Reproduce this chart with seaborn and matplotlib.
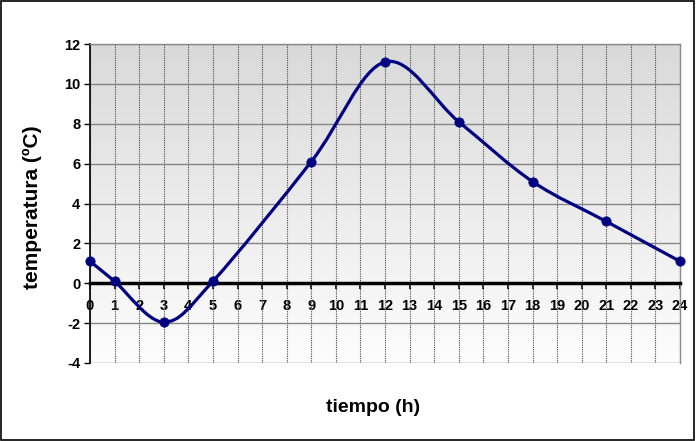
import numpy as np
import pandas as pd
import matplotlib
matplotlib.use("Agg")
import matplotlib.pyplot as plt
from matplotlib.path import Path
from matplotlib.patches import PathPatch
from matplotlib.colors import LinearSegmentedColormap
import seaborn as sns

# data
hours = [0, 1, 3, 5, 9, 12, 15, 18, 21, 24]
temps = [1.1, 0.1, -1.95, 0.1, 6.1, 11.1, 8.1, 5.1, 3.1, 1.1]
x_ticks = list(range(0, 25))
y_ticks = [-4, -2, 0, 2, 4, 6, 8, 10, 12]
x_label = "tiempo (h)"
y_label = "temperatura (ºC)"

sns.set_theme(style="white")
plt.rcParams['font.family'] = ['Liberation Sans', 'DejaVu Sans']
plt.rcParams['text.color'] = 'black'
plt.rcParams['xtick.color'] = 'black'
plt.rcParams['ytick.color'] = 'black'
plt.rcParams['xtick.labelcolor'] = 'black'
plt.rcParams['ytick.labelcolor'] = 'black'

fig = plt.figure(figsize=(6.96, 4.41), dpi=100)
ax = fig.add_axes([90/696, 1-363/441, 590/696, 319/441])

# gradient background
grad = np.linspace(0, 1, 256).reshape(-1, 1)
cmap = LinearSegmentedColormap.from_list("g", ["#fdfdfd", "#d9d9d9"])
ax.imshow(grad, extent=[0, 1, 0, 1], transform=ax.transAxes, origin="lower",
          aspect="auto", cmap=cmap, zorder=0)

ax.set_xlim(0, 24)
ax.set_ylim(-4, 12)

# grid
for xv in x_ticks:
    ax.axvline(xv, color="#4a4a4a", lw=0.8, ls=(0, (1, 1)), zorder=1)
for yv in y_ticks:
    ax.axhline(yv, color="#858585", lw=1.0, zorder=1)

# smoothed line (Bezier segments through data, Excel-like)
pts = np.column_stack([hours, temps]).astype(float)
verts = [tuple(pts[0])]
codes = [Path.MOVETO]
n = len(pts)
for i in range(n - 1):
    p0 = pts[i - 1] if i > 0 else pts[i]
    p1 = pts[i]
    p2 = pts[i + 1]
    p3 = pts[i + 2] if i + 2 < n else pts[i + 1]
    c1 = p1 + (p2 - p0) / 6.0
    c2 = p2 - (p3 - p1) / 6.0
    verts += [tuple(c1), tuple(c2), tuple(p2)]
    codes += [Path.CURVE4, Path.CURVE4, Path.CURVE4]
ax.add_patch(PathPatch(Path(verts, codes), facecolor="none", edgecolor="#000080",
                       lw=2.3, zorder=4, clip_on=False))

df = pd.DataFrame({"h": hours, "t": temps})
sns.scatterplot(data=df, x="h", y="t", ax=ax, color="#000080", s=45,
                edgecolor="#000080", zorder=5, clip_on=False, legend=False)

# spines
for s in ["top", "right"]:
    ax.spines[s].set_color("#8a8a8a")
    ax.spines[s].set_linewidth(1.0)
ax.spines["left"].set_color("black")
ax.spines["left"].set_linewidth(1.2)
ax.spines["bottom"].set_position(("data", 0))
ax.spines["bottom"].set_color("black")
ax.spines["bottom"].set_linewidth(2.5)
ax.spines["bottom"].set_zorder(3)

ax.set_xticks(x_ticks)
ax.set_xticklabels([str(v) for v in x_ticks], fontsize=10.5, fontweight="bold", color="black")
ax.set_yticks(y_ticks)
ax.set_yticklabels([str(v) for v in y_ticks], fontsize=10.5, fontweight="bold", color="black")
ax.tick_params(axis="x", direction="out", length=4, width=1.2, color="black", pad=7, bottom=True)
ax.tick_params(axis="y", direction="out", length=4, width=1.0, color="black", pad=3, left=True)

ax.set_xlabel("")
ax.set_ylabel("")
fig.text(373/696, 1-408/441, x_label, ha="center", va="center",
         fontsize=14, fontweight="bold", color="black")
fig.text(32/696, 1-207/441, y_label, ha="center", va="center",
         rotation=90, fontsize=15, fontweight="bold", color="black")

# outer border
fig.add_artist(plt.Rectangle((0.002, 0.003), 0.995, 0.994, transform=fig.transFigure,
                             fill=False, edgecolor="black", lw=1.2))

fig.savefig("out.png", dpi=100)
